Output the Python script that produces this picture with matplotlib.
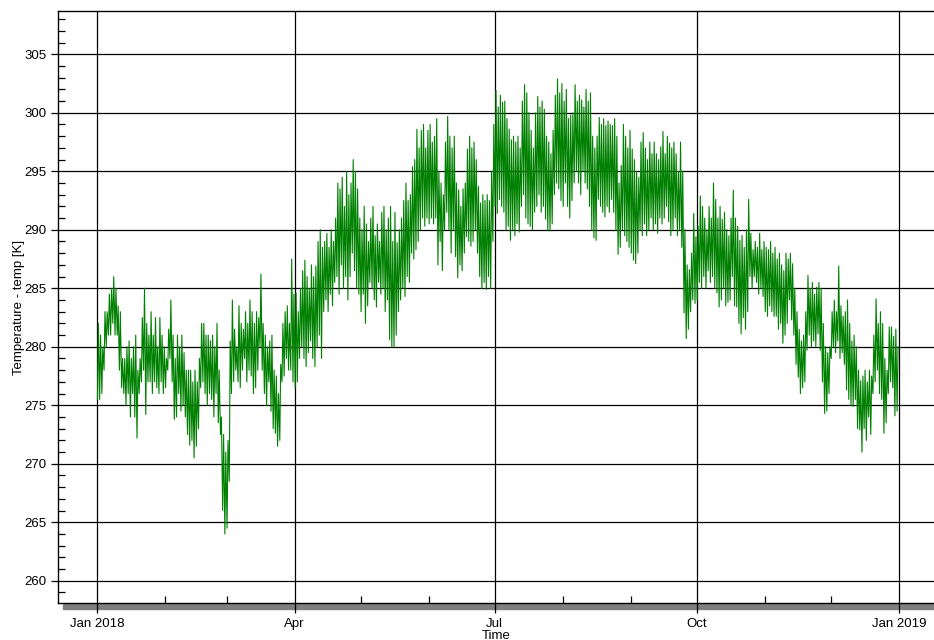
import numpy as np
import pandas as pd
import matplotlib
matplotlib.use("Agg")
import matplotlib.pyplot as plt
import matplotlib.dates as mdates
from matplotlib.patches import Rectangle
from matplotlib.ticker import MultipleLocator, FuncFormatter

plt.rcParams["font.family"] = ["Liberation Sans", "DejaVu Sans"]

# daily max / min temperature [K], 2018-01-01 .. 2018-12-31
daily_high = [
    # Jan
    282, 281, 280, 283, 283, 284.5, 285, 286, 285, 283.5, 283, 279, 279, 280, 280.5, 279,
    280, 281, 278, 279, 282.5, 285, 282, 281, 283, 281, 282.5, 280, 282.5, 281, 280,
    # Feb
    279, 281.5, 284, 281, 279, 281, 280, 281, 279.5, 278, 278, 278, 277, 278, 277, 279,
    282, 282, 281, 281, 280.5, 281, 280, 282, 278, 274, 272.5, 271,
    # Mar
    272, 280.5, 284, 281.5, 280, 283.5, 282, 281.5, 283, 282, 284, 283, 282, 283, 282.5, 286.2,
    282, 281, 280, 280.5, 281, 278, 277.5, 276, 278.5, 282, 283, 283.5, 282, 287.5, 284.5,
    # Apr
    284.6, 283, 285, 286.5, 287.4, 286, 285, 287, 286, 286.9, 289, 290, 288.5, 289, 289.7,
    288.5, 290, 289, 291, 294, 293.5, 294.5, 292, 295, 293, 294, 296, 295, 293.5, 291,
    # May
    290, 292, 290.5, 289, 291, 292, 289.5, 290.5, 289, 291.5, 292, 290, 291, 292, 289, 291.5,
    288.9, 290, 291, 292.5, 294, 292.5, 293, 295.4, 296, 298.6, 297, 298.5, 299, 297, 298.5,
    # Jun
    299, 297.5, 298, 299.5, 295, 294, 293, 297.5, 299.7, 298, 297, 298, 294, 293.4, 292,
    293.5, 294, 296.9, 298, 297, 297.5, 296, 293.7, 292.3, 293, 292.5, 293, 292.5, 295, 299,
    # Jul
    301.9, 300.5, 301.5, 300.9, 301, 299.5, 298.6, 297.7, 298, 297.5, 298, 297, 301, 302.4, 301.7,
    300, 298.5, 297, 300, 301.4, 300.5, 301, 300.3, 298, 297.5, 296.5, 298.5, 301.5, 302.9, 301.7, 302.5,
    # Aug
    301, 302, 299.5, 299.8, 300, 302.4, 301, 301.5, 301.1, 300.5, 302, 301, 301.7, 298, 297,
    298, 299.6, 299, 299.5, 298.9, 299.3, 299, 298.9, 299.5, 298, 294, 295.5, 299, 298, 297, 298.5,
    # Sep
    296.9, 296, 295, 294.5, 297.5, 298.3, 297, 296, 297.5, 296.5, 297.5, 296.5, 296, 297.1, 298.4,
    296.5, 298, 297.4, 297, 297.5, 296.5, 295, 297.5, 295, 290, 287, 286.6, 288, 291.4, 289.4,
    # Oct
    290.3, 292.9, 292, 291, 290, 292, 291, 294, 292.6, 291, 292, 290.9, 291.5, 290, 289.5, 291,
    293.4, 291, 290.3, 289.1, 289.5, 288.5, 290, 292.6, 289.7, 288.3, 289, 288.5, 289.7, 288.3, 289,
    # Nov
    288.5, 288.3, 289, 288, 288.5, 287.5, 288, 287, 286.5, 288, 287.5, 288, 287.1, 285, 283,
    281.5, 280.5, 281, 283, 286.1, 285, 285.5, 284.5, 285.1, 285.5, 285, 282, 280, 279.5, 280,
    # Dec
    283, 284, 283, 286.9, 283.5, 282.6, 283, 284, 282, 280.5, 281, 280, 278, 277.1, 277.5, 278,
    277, 278, 277.5, 281, 284.1, 282, 283, 282, 279, 278, 281.7, 281.7, 280.9, 281.5, 280,
]

daily_low = [
    # Jan
    275.5, 275.5, 276, 278, 280, 281, 281, 282, 281, 281, 278, 276.5, 276, 275, 276, 274,
    276, 274, 272.2, 276, 277, 278, 274.2, 277, 277, 276, 277, 276.5, 276, 277, 276,
    # Feb
    276.5, 278, 279, 277, 273.8, 274, 276, 274.5, 275, 274, 272.5, 271.6, 272, 270.5, 271.5, 273,
    276.5, 277, 276, 275, 276, 275.5, 274, 276, 273.5, 272.5, 266, 264,
    # Mar
    264.5, 268.5, 276, 277, 278, 277, 276.5, 278, 279, 277, 278, 277.5, 276, 276.5, 278, 280,
    278, 276, 275, 277, 274.5, 273, 272.6, 271.5, 272, 277, 277.5, 279, 278, 278, 277,
    # Apr
    276.5, 277, 279, 280, 279, 278.3, 279.5, 280.5, 279, 278.3, 280, 281, 279, 283, 284,
    283, 284.5, 283.5, 285.5, 286, 284.5, 287, 285, 286, 284, 286, 288, 286.5, 285, 284.5,
    # May
    283, 284.5, 282, 283.5, 285.5, 285, 284, 283.4, 285.5, 284.5, 285, 283, 284, 280.6, 280, 280,
    281, 283, 284, 285, 284.3, 286, 285.5, 288, 287.5, 288.3, 289, 290, 291, 290.3, 291,
    # Jun
    290.5, 291, 290.5, 291, 287, 289, 286.5, 290, 291.5, 290, 288, 290, 287.7, 285.9, 287,
    286.5, 288, 289.4, 289, 288.6, 289, 290, 288, 286, 285, 285.5, 284.9, 286, 285, 289,
    # Jul
    292, 291.4, 292.6, 292, 291.5, 290, 290.3, 289.1, 290, 289.5, 290.5, 289.8, 292, 293, 291,
    290.5, 290.3, 290, 291.5, 292, 293, 291.5, 292, 290.9, 290, 289.9, 290.5, 293, 294, 293.5, 292.5,
    # Aug
    292, 294, 292, 291, 292.5, 294, 295, 294, 293, 295, 294, 293.5, 292, 290, 289.3,
    289.1, 292.6, 292, 291.5, 291.1, 292, 291.5, 292.6, 291.5, 290, 287.9, 288.5, 290, 289.5, 289, 288.5,
    # Sep
    288, 287.4, 287.1, 288, 290, 289.5, 290.5, 289.5, 290, 291, 290, 290.5, 289.7, 291, 290.5,
    291, 292, 290.7, 289.5, 290, 291, 289.5, 290, 288.5, 282.9, 280.7, 281.5, 283, 284, 283.7,
    # Oct
    284, 285.5, 285, 286, 285, 286.5, 285.5, 286, 285, 284.6, 283.4, 284, 285, 283.5, 283.8, 284,
    286, 283.5, 283.4, 282, 281.1, 282.5, 281.5, 283, 286, 285, 286, 285.5, 284.5, 285, 284.3,
    # Nov
    283, 282.6, 283.5, 283, 282.6, 282.6, 281.5, 282, 280.3, 281, 282, 284, 282.3, 281, 278.5,
    277.4, 276, 276.5, 277, 279.7, 281, 280, 280.5, 280, 281.1, 279.7, 277, 274.3, 274.5, 276,
    # Dec
    279, 280, 279.5, 280.5, 279, 279.5, 278.5, 276.3, 275.5, 275, 274.9, 275.5, 273, 272.9, 271, 273,
    272, 274, 272.5, 276, 277, 278, 276, 275.5, 272.6, 273.5, 276, 277, 276.5, 274.1, 274.5,
]

days = pd.date_range("2018-01-01", periods=len(daily_high), freq="D")

# early-morning minimum, afternoon maximum
times = np.empty(2 * len(days), dtype="datetime64[ns]")
times[0::2] = (days + pd.Timedelta(hours=5)).values
times[1::2] = (days + pd.Timedelta(hours=15)).values
temp = np.empty(2 * len(days))
temp[0::2] = daily_low
temp[1::2] = daily_high

fig = plt.figure(figsize=(9.34, 6.4), dpi=100)
ax = fig.add_axes([58 / 934, 37 / 640, 876 / 934, 592 / 640])

ax.plot(times, temp, color="#008000", linewidth=0.8)

start = pd.Timestamp("2018-01-01")
ax.set_xlim(start - pd.Timedelta(days=17.75), start + pd.Timedelta(days=381))
ax.set_ylim(258.1, 308.7)

ax.xaxis.set_major_locator(mdates.MonthLocator(bymonth=[1, 4, 7, 10]))
ax.xaxis.set_minor_locator(mdates.MonthLocator())


def month_label(x, pos):
    d = mdates.num2date(x)
    return d.strftime("%b %Y") if d.month == 1 else d.strftime("%b")


ax.xaxis.set_major_formatter(FuncFormatter(month_label))
ax.yaxis.set_major_locator(MultipleLocator(5))
ax.yaxis.set_minor_locator(MultipleLocator(1))

ax.grid(which="major", color="black", linewidth=0.9)
ax.set_axisbelow(True)

ax.tick_params(axis="both", which="major", direction="out", labelsize=9.5, width=0.9, color="black")
ax.tick_params(axis="y", which="major", length=5)
ax.tick_params(axis="x", which="major", length=7)
ax.tick_params(axis="both", which="minor", direction="in", length=5, width=0.9)

ax.spines["right"].set_visible(False)
for s in ["left", "bottom", "top"]:
    ax.spines[s].set_linewidth(1.0)

ax.set_xlabel("Time", fontsize=9.5, labelpad=0)
ax.set_ylabel("Temperature - temp [K]", fontsize=9.5, labelpad=-1)

# grey shadow under the time axis
fig.patches.append(Rectangle((63 / 934, 31 / 640), 871 / 934, 5 / 640,
                             transform=fig.transFigure, color="#808080", zorder=-1))

plt.savefig("out.png", dpi=100)
